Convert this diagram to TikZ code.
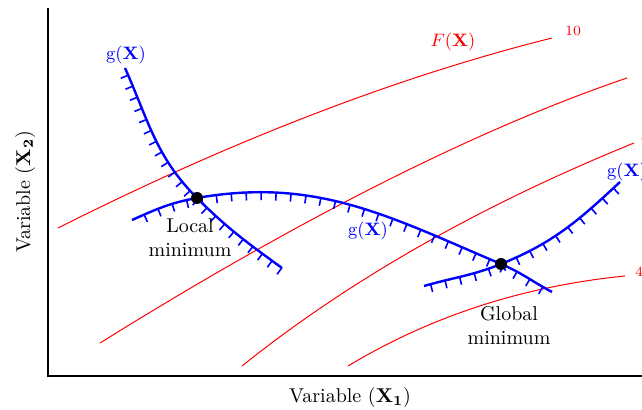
\documentclass[tikz,border=0pt]{standalone}
\usetikzlibrary{decorations.markings}

\begin{document}
\begin{tikzpicture}[
    x=0.5pt, y=-0.5pt,
    axis/.style={line width=1pt, draw=black},
    level/.style={draw=red, line width=0.5pt},
    gline/.style={draw=blue, line width=1.2pt, postaction={decorate, decoration={markings,
        mark=between positions 0.03 and 1 step #1 with {\draw[blue, line width=0.8pt] (0pt,0pt) -- (0pt,-4pt);}}}},
    gline/.default=7pt,
    dot/.style={circle, fill=black, inner sep=0pt, minimum size=6pt},
    glabel/.style={text=blue, font=\small},
    flabel/.style={text=red, font=\small},
    value/.style={text=red, font=\scriptsize},
    note/.style={align=center}
]
\clip (0,0) rectangle (642,410);

% Axes
\coordinate (ytop) at (48,8);
\coordinate (origin) at (48,376);
\coordinate (xend) at (660,376);
\draw[axis] (ytop) -- (origin) -- (xend);
\node (xlbl) at (350,398) {Variable ($\mathbf{X_1}$)};
\node[rotate=90] (ylbl) at (25,192) {Variable ($\mathbf{X_2}$)};

% Objective contours
\draw[level] (58,228) .. controls (235,139) and (400,76) .. (552,38);
\draw[level] (100,343) .. controls (304,216) and (480,128) .. (627,78);
\draw[level] (242,366) .. controls (348,281) and (479,206) .. (634,143);
\draw[level] (348,366) .. controls (431,316) and (524,286) .. (625,276);
\node[value] (v10) at (573,31) {10};
\node[value] (v6) at (645,139) {6};
\node[value] (v4) at (639,272) {4};
\node[flabel] (fx) at (453,42) {$F(\mathbf{X})$};

% Constraints
\coordinate (locmin) at (197,198);
\coordinate (globmin) at (501,264);
\draw[gline=6pt] (125,68) to[out=-66,in=135] (locmin) to[out=-45,in=144] (282,268);
\draw[gline=7.5pt] (132,220) to[out=24,in=190] (locmin) to[out=10,in=157] (globmin) to[out=-23,in=152] (552,292);
\draw[gline=7.5pt] (424,286) to[out=16,in=202] (globmin) to[out=22,in=223] (620,182);
\node[glabel] (g1lbl) at (126,55) {g($\mathbf{X}$)};
\node[glabel] (g2lbl) at (368,231) {g($\mathbf{X}$)};
\node[glabel] (g3lbl) at (627,172) {g($\mathbf{X}$)};

% Minima
\node[dot] (locdot) at (locmin) {};
\node[dot] (globdot) at (globmin) {};
\node[note] (loctxt) at (190,238) {Local\\minimum};
\node[note] (globtxt) at (509,326) {Global\\minimum};

\end{tikzpicture}
\end{document}
